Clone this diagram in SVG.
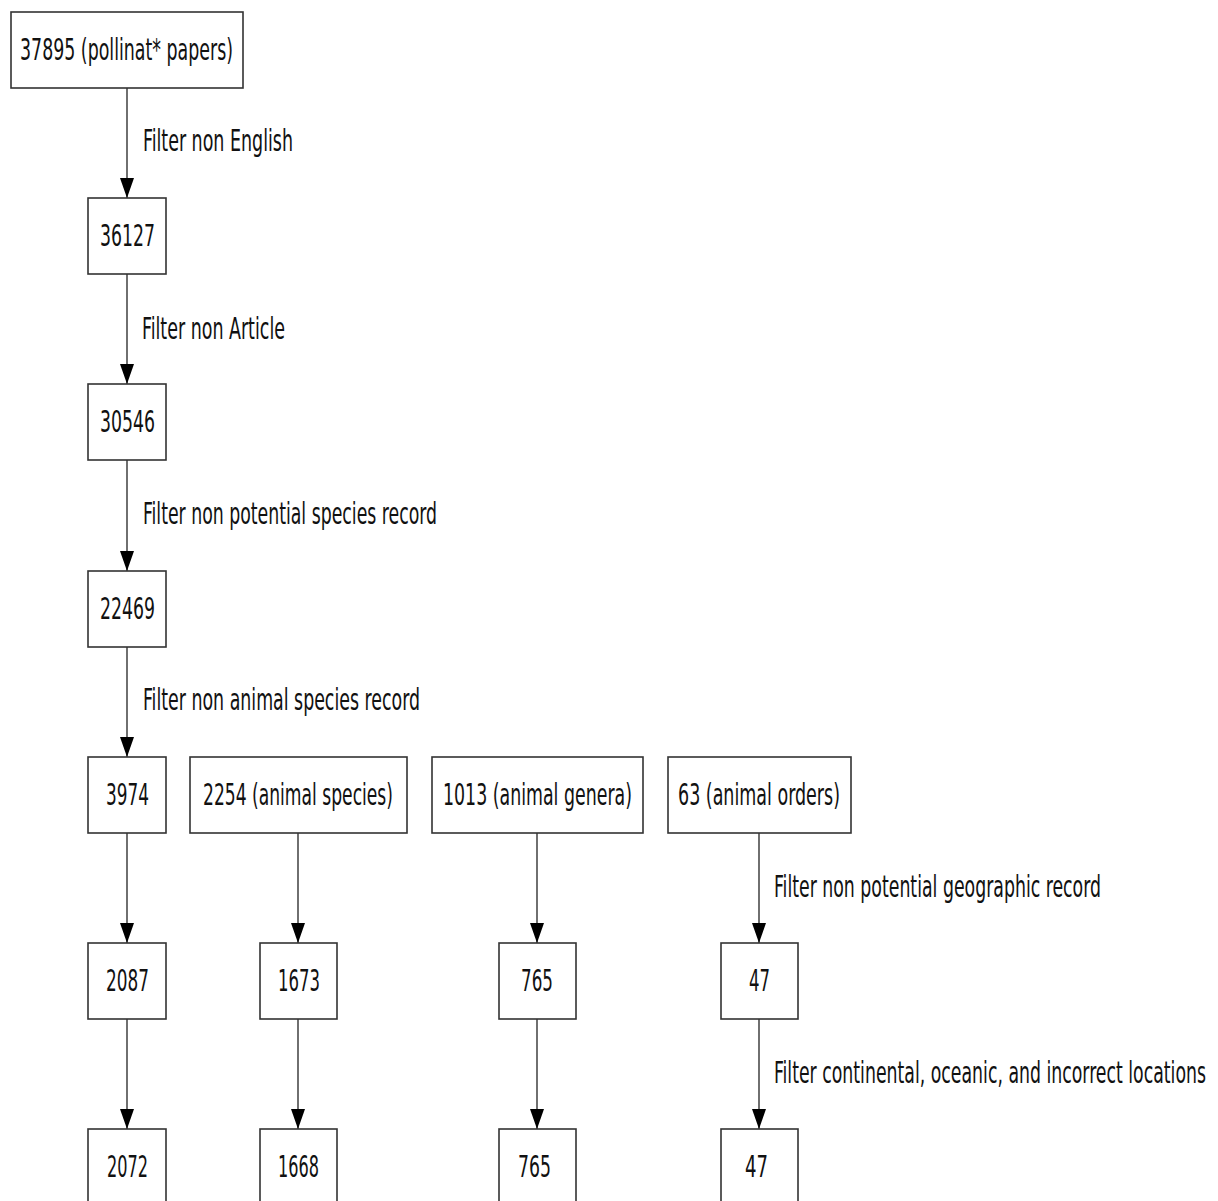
<svg xmlns="http://www.w3.org/2000/svg" width="1218" height="1201" viewBox="0 0 1218 1201">
<style>
rect.n{fill:#fff;stroke:#333;stroke-width:1.6}
text{font-family:"DejaVu Sans Condensed","DejaVu Sans",sans-serif;font-size:18.75px;fill:#111}
.c line{stroke:#333;stroke-width:1.4;marker-end:url(#ah)}
</style>
<defs>
<marker id="ah" markerUnits="userSpaceOnUse" markerWidth="20" markerHeight="14" viewBox="0 0 20 14" refX="20" refY="7" orient="auto">
<path d="M0,0 L20,7 L0,14 Z" fill="#000"/>
</marker>
</defs>
<rect width="1218" height="1201" fill="#fff"/>
<g class="c" id="connectors">
<line x1="127" y1="88" x2="127" y2="198"/>
<line x1="127" y1="274" x2="127" y2="384"/>
<line x1="127" y1="460" x2="127" y2="571"/>
<line x1="127" y1="647" x2="127" y2="757"/>
<line x1="127" y1="833" x2="127" y2="943"/>
<line x1="298" y1="833" x2="298" y2="943"/>
<line x1="537" y1="833" x2="537" y2="943"/>
<line x1="759" y1="833" x2="759" y2="943"/>
<line x1="127" y1="1019" x2="127" y2="1129"/>
<line x1="298" y1="1019" x2="298" y2="1129"/>
<line x1="537" y1="1019" x2="537" y2="1129"/>
<line x1="759" y1="1019" x2="759" y2="1129"/>
<text transform="translate(143 151) scale(1 1.6)" textLength="150" lengthAdjust="spacingAndGlyphs">Filter non English</text>
<text transform="translate(142 339) scale(1 1.6)" textLength="143" lengthAdjust="spacingAndGlyphs">Filter non Article</text>
<text transform="translate(143 524) scale(1 1.6)" textLength="294" lengthAdjust="spacingAndGlyphs">Filter non potential species record</text>
<text transform="translate(143 710) scale(1 1.6)" textLength="277" lengthAdjust="spacingAndGlyphs">Filter non animal species record</text>
<text transform="translate(774 897) scale(1 1.6)" textLength="327" lengthAdjust="spacingAndGlyphs">Filter non potential geographic record</text>
<text transform="translate(774 1083) scale(1 1.6)" textLength="432" lengthAdjust="spacingAndGlyphs">Filter continental, oceanic, and incorrect locations</text>
</g>
<g id="n1"><rect class="n" x="11" y="12" width="232" height="76"/><text transform="translate(20 60) scale(1 1.6)" textLength="213" lengthAdjust="spacingAndGlyphs">37895 (pollinat* papers)</text></g>
<g id="n2"><rect class="n" x="88" y="198" width="78" height="76"/><text transform="translate(100 246) scale(1 1.6)" textLength="55" lengthAdjust="spacingAndGlyphs">36127</text></g>
<g id="n3"><rect class="n" x="88" y="384" width="78" height="76"/><text transform="translate(100 432) scale(1 1.6)" textLength="55" lengthAdjust="spacingAndGlyphs">30546</text></g>
<g id="n4"><rect class="n" x="88" y="571" width="78" height="76"/><text transform="translate(100 619) scale(1 1.6)" textLength="55" lengthAdjust="spacingAndGlyphs">22469</text></g>
<g id="n5"><rect class="n" x="88" y="757" width="78" height="76"/><text transform="translate(106 805) scale(1 1.6)" textLength="43" lengthAdjust="spacingAndGlyphs">3974</text></g>
<g id="n6"><rect class="n" x="190" y="757" width="217" height="76"/><text transform="translate(203 805) scale(1 1.6)" textLength="190" lengthAdjust="spacingAndGlyphs">2254 (animal species)</text></g>
<g id="n7"><rect class="n" x="432" y="757" width="211" height="76"/><text transform="translate(443 805) scale(1 1.6)" textLength="189" lengthAdjust="spacingAndGlyphs">1013 (animal genera)</text></g>
<g id="n8"><rect class="n" x="668" y="757" width="183" height="76"/><text transform="translate(678 805) scale(1 1.6)" textLength="162" lengthAdjust="spacingAndGlyphs">63 (animal orders)</text></g>
<g id="n9"><rect class="n" x="88" y="943" width="78" height="76"/><text transform="translate(106 991) scale(1 1.6)" textLength="43" lengthAdjust="spacingAndGlyphs">2087</text></g>
<g id="n10"><rect class="n" x="260" y="943" width="77" height="76"/><text transform="translate(278 991) scale(1 1.6)" textLength="42" lengthAdjust="spacingAndGlyphs">1673</text></g>
<g id="n11"><rect class="n" x="499" y="943" width="77" height="76"/><text transform="translate(521 991) scale(1 1.6)" textLength="32" lengthAdjust="spacingAndGlyphs">765</text></g>
<g id="n12"><rect class="n" x="721" y="943" width="77" height="76"/><text transform="translate(749 991) scale(1 1.6)" textLength="21" lengthAdjust="spacingAndGlyphs">47</text></g>
<g id="n13"><rect class="n" x="88" y="1129" width="78" height="80"/><text transform="translate(107 1177) scale(1 1.6)" textLength="41" lengthAdjust="spacingAndGlyphs">2072</text></g>
<g id="n14"><rect class="n" x="260" y="1129" width="77" height="80"/><text transform="translate(278 1177) scale(1 1.6)" textLength="41" lengthAdjust="spacingAndGlyphs">1668</text></g>
<g id="n15"><rect class="n" x="499" y="1129" width="77" height="80"/><text transform="translate(518 1177) scale(1 1.6)" textLength="33" lengthAdjust="spacingAndGlyphs">765</text></g>
<g id="n16"><rect class="n" x="721" y="1129" width="77" height="80"/><text transform="translate(745 1177) scale(1 1.6)" textLength="23" lengthAdjust="spacingAndGlyphs">47</text></g>
</svg>
